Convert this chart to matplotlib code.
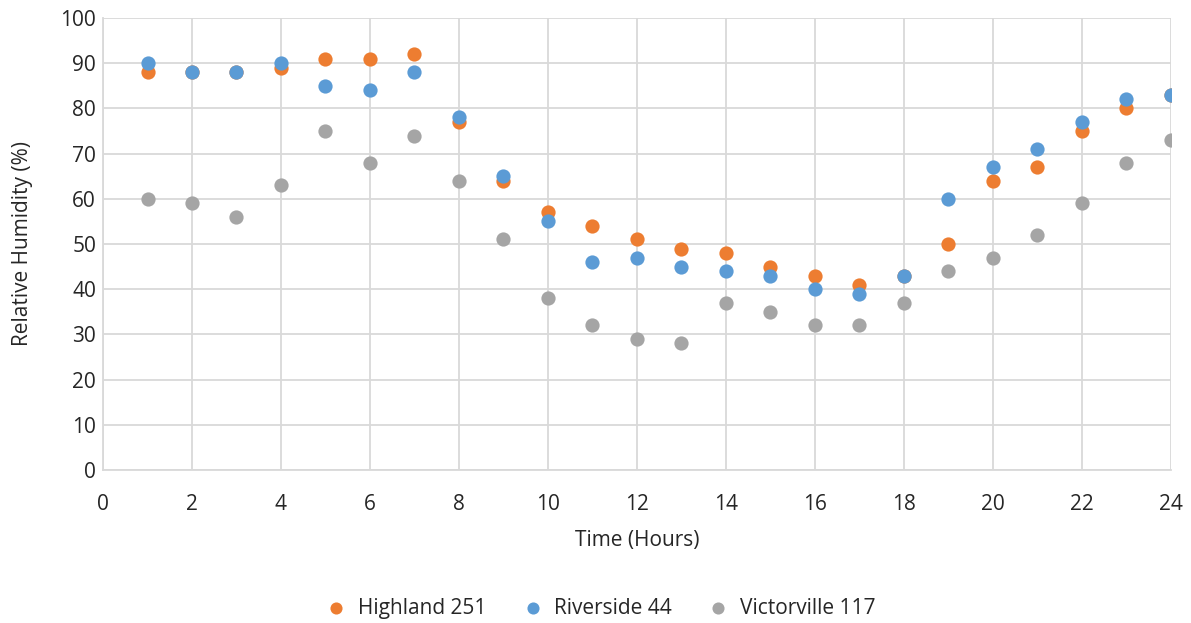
import matplotlib.pyplot as plt

hours = list(range(1, 25))
highland = [88, 88, 88, 89, 91, 91, 92, 77, 64, 57, 54, 51, 49, 48, 45, 43, 41, 43, 50, 64, 67, 75, 80, 83]
riverside = [90, 88, 88, 90, 85, 84, 88, 78, 65, 55, 46, 47, 45, 44, 43, 40, 39, 43, 60, 67, 71, 77, 82, 83]
victorville = [60, 59, 56, 63, 75, 68, 74, 64, 51, 38, 32, 29, 28, 37, 35, 32, 32, 37, 44, 47, 52, 59, 68, 73]

series = [('Highland 251', highland, '#ED7D31'),
          ('Riverside 44', riverside, '#5B9BD5'),
          ('Victorville 117', victorville, '#A5A5A5')]

plt.rcParams['font.family'] = ['Open Sans', 'DejaVu Sans']
txt = '#262626'

fig = plt.figure(figsize=(11.91, 6.23), dpi=100)
ax = fig.add_axes([0.0865, 0.2456, 0.8965, 0.7255])

for name, vals, col in series:
    ax.scatter(hours, vals, s=105, color=col, label=name, zorder=3, linewidths=0)

ax.set_xlim(0, 24)
ax.set_ylim(0, 100)
ax.set_xticks(range(0, 25, 2))
ax.set_yticks(range(0, 101, 10))
ax.grid(True, color='#d9d9d9', linewidth=1.3)
ax.set_axisbelow(True)
for s in ['top', 'right']:
    ax.spines[s].set_visible(False)
for s in ['left', 'bottom']:
    ax.spines[s].set_color('#d9d9d9')
    ax.spines[s].set_linewidth(1.3)
ax.tick_params(length=0, labelsize=15, colors=txt)
ax.tick_params(axis='x', pad=17)
ax.tick_params(axis='y', pad=5)
ax.set_xlabel('Time (Hours)', fontsize=15, color=txt, labelpad=11)
ax.set_ylabel('Relative Humidity (%)', fontsize=15, color=txt, labelpad=20)

# legend centred on the whole figure, below the axis title
fig.legend(loc='center', bbox_to_anchor=(0.5, 0.024), ncol=3, frameon=False,
           fontsize=15, handletextpad=0.05, columnspacing=1.2, markerscale=0.85,
           labelcolor=txt)

fig.savefig('out.png', dpi=100)
